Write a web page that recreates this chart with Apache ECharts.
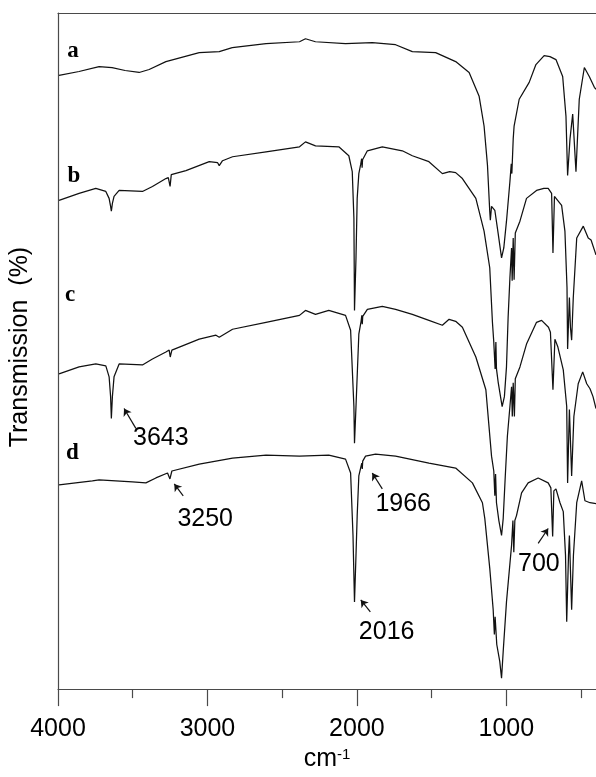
<!DOCTYPE html>
<html>
<head>
<meta charset="utf-8">
<script src="https://cdn.jsdelivr.net/npm/echarts@6/dist/echarts.min.js"></script>
<style>
html,body{margin:0;padding:0;background:#fff;}
#c{width:596px;height:777px;}
</style>
</head>
<body>
<div id="c"></div>
<script>
// ---- data (wavenumber cm-1, relative transmission, arbitrary offset units) ----
const wavenumberTicks = [4000, 3000, 2000, 1000];
const tickLabels = ['4000', '3000', '2000', '1000'];
const minorTicks = [3500, 2500, 1500, 500];
const curveNames = ['a', 'b', 'c', 'd'];
const curveLabelPos = [[3899, 644], [3893, 518], [3919, 397], [3904, 238]];

const spectrumA = [[3993,619],[3859,623],[3725,628],[3638,627],[3551,624],[3457,622],[3390,625],[3278,633],[3055,642],[2921,643],[2834,647],[2608,651],[2384,653],[2344,656],[2277,653],[2076,651],[1897,652],[1741,650],[1629,643],[1473,642],[1339,633],[1249,622],[1182,598],[1149,568],[1126,528],[1111,482],[1107,473],[1099,487],[1088,485],[1077,483],[1055,460],[1032,435],[1017,445],[999,472],[976,512],[967,530],[963,520],[954,555],[948,568],[914,595],[847,612],[802,630],[747,639],[708,638],[668,635],[623,618],[601,578],[590,518],[574,555],[556,580],[534,522],[512,595],[478,627],[445,618],[411,607],[400,605]];

const spectrumB = [[3993,493],[3859,500],[3747,505],[3680,502],[3658,495],[3648,487],[3643,482],[3636,490],[3625,497],[3591,503],[3435,502],[3368,507],[3278,515],[3262,516],[3250,507],[3242,519],[3144,523],[2988,532],[2932,531],[2921,528],[2899,533],[2832,537],[2608,542],[2384,547],[2344,552],[2277,548],[2121,547],[2054,538],[2031,522],[2020,475],[2016,382],[2006,435],[1998,495],[1987,520],[1975,529],[1968,535],[1965,526],[1962,534],[1930,543],[1830,547],[1696,543],[1629,538],[1518,532],[1428,520],[1379,522],[1339,521],[1294,515],[1204,495],[1149,462],[1111,425],[1093,370],[1084,350],[1075,323],[1070,350],[1066,323],[1055,310],[1028,285],[1013,295],[999,325],[988,375],[976,415],[965,445],[961,412],[954,455],[948,413],[940,460],[909,472],[865,495],[798,503],[749,505],[720,505],[697,500],[688,440],[678,497],[668,498],[630,488],[608,462],[594,405],[590,343],[578,395],[571,365],[563,352],[552,395],[529,455],[485,467],[452,455],[433,453],[400,438]];

const spectrumC = [[3993,318],[3859,325],[3747,328],[3680,326],[3658,315],[3648,295],[3643,273],[3636,295],[3625,315],[3591,328],[3435,327],[3368,333],[3278,340],[3256,342],[3249,335],[3238,342],[3055,353],[2943,357],[2921,355],[2832,363],[2608,370],[2384,377],[2344,382],[2277,378],[2188,382],[2076,377],[2042,362],[2020,285],[2016,248],[2006,285],[1987,358],[1972,371],[1967,377],[1964,368],[1961,376],[1930,383],[1830,386],[1741,383],[1629,378],[1518,372],[1428,367],[1383,373],[1339,371],[1294,365],[1204,335],[1137,302],[1099,235],[1084,220],[1077,195],[1072,217],[1066,188],[1050,170],[1032,155],[1021,172],[1007,215],[993,255],[976,285],[965,305],[960,275],[954,309],[946,275],[940,313],[909,325],[865,348],[798,370],[764,372],[718,365],[705,360],[688,302],[675,353],[655,345],[619,322],[596,285],[590,208],[578,282],[563,215],[548,275],[519,308],[489,320],[462,308],[440,303],[420,295],[400,283]];

const spectrumD = [[3993,206],[3770,210],[3725,211],[3502,209],[3412,208],[3345,213],[3267,218],[3251,212],[3238,220],[3055,227],[2832,233],[2608,236],[2384,235],[2188,236],[2076,232],[2042,218],[2026,155],[2016,88],[2006,135],[1998,175],[1987,215],[1972,225],[1967,228],[1964,222],[1961,230],[1942,235],[1875,237],[1741,235],[1518,228],[1339,223],[1227,208],[1160,188],[1144,172],[1111,122],[1088,80],[1080,55],[1075,73],[1064,45],[1044,28],[1032,11],[1021,38],[999,88],[965,145],[956,170],[950,138],[943,170],[932,175],[898,198],[854,208],[787,213],[720,208],[702,203],[690,154],[682,200],[668,202],[641,188],[619,179],[604,135],[596,68],[584,135],[578,155],[563,80],[551,135],[529,188],[496,210],[474,190],[440,188],[400,187]];

// peak annotations
const annotationTexts = ['3643', '3250', '2016', '1966', '700'];
const annotationSeries = [2, 3, 3, 3, 3];
const annotationTips = [[3558,283],[3222,207],[1974,90],[1897,218],[720,162]];
const annotationTails = [[3479,263],[3162,195],[1910,78],[1830,202],[787,147]];
const annotationTextPos = [[3312,253],[3015,171],[1801,57],[1690,187],[782,126]];

// ---- chart ----
const FONT = "'Liberation Sans', Arial, Helvetica, sans-serif";
const SERIF = "'Liberation Serif', 'Times New Roman', serif";
const axisColor = '#4a4a4a';
const spectra = [spectrumA, spectrumB, spectrumC, spectrumD];

const series = spectra.map(function (d, i) {
  const mp = [{
    name: curveNames[i], coord: curveLabelPos[i],
    label: { show: true, position: 'inside', formatter: '{b}', fontSize: 23, fontWeight: 'bold', fontFamily: SERIF, color: '#000' }
  }];
  const ml = [];
  annotationTexts.forEach(function (t, k) {
    if (annotationSeries[k] !== i) return;
    mp.push({
      name: t, coord: annotationTextPos[k],
      label: { show: true, position: 'inside', formatter: '{b}', fontSize: 25, fontFamily: FONT, color: '#000' }
    });
    ml.push([{ coord: annotationTails[k] }, { coord: annotationTips[k] }]);
  });
  return {
    type: 'line', name: curveNames[i], data: d,
    showSymbol: false, symbol: 'none', smooth: false, animation: false, silent: true,
    lineStyle: { color: '#111', width: 1.25 },
    emphasis: { disabled: true },
    markPoint: {
      symbol: 'circle', symbolSize: 1, silent: true, animation: false,
      itemStyle: { color: 'rgba(0,0,0,0)' },
      data: mp
    },
    markLine: {
      symbol: ['none', 'arrow'], symbolSize: 7, silent: true, animation: false,
      lineStyle: { color: '#111', width: 1.2, type: 'solid' },
      label: { show: false },
      data: ml
    }
  };
});

const chart = echarts.init(document.getElementById('c'), null, { renderer: 'canvas' });
chart.setOption({
  backgroundColor: '#fff',
  animation: false,
  grid: { left: 58, right: 0, top: 13, bottom: 82 },
  xAxis: [
    {
      type: 'value', min: 400, max: 4000, inverse: true, position: 'bottom',
      axisLine: { show: true, lineStyle: { color: axisColor, width: 1.2 } },
      axisTick: { show: true, length: 17, customValues: wavenumberTicks, lineStyle: { color: axisColor, width: 1.2 } },
      axisLabel: {
        show: true, customValues: wavenumberTicks, margin: 28,
        formatter: function (v) { return tickLabels[wavenumberTicks.indexOf(v)]; },
        fontSize: 25, color: '#000', fontFamily: FONT
      },
      splitLine: { show: false },
      name: 'cm{sup|-1}', nameLocation: 'middle', nameGap: 57,
      nameTextStyle: {
        fontSize: 25, color: '#000', fontFamily: FONT,
        rich: { sup: { fontSize: 15, verticalAlign: 'top', color: '#000', fontFamily: FONT } }
      }
    },
    {
      type: 'value', min: 400, max: 4000, inverse: true, position: 'bottom',
      axisLine: { show: false },
      axisTick: { show: true, length: 9, customValues: minorTicks, lineStyle: { color: axisColor, width: 1.2 } },
      axisLabel: { show: false },
      splitLine: { show: false }
    },
    {
      type: 'value', min: 400, max: 4000, inverse: true, position: 'top',
      axisLine: { show: true, lineStyle: { color: axisColor, width: 1.2 } },
      axisTick: { show: false }, axisLabel: { show: false }, splitLine: { show: false }
    }
  ],
  yAxis: {
    type: 'value', min: 0, max: 682,
    axisLine: { show: true, lineStyle: { color: axisColor, width: 1.2 } },
    axisTick: { show: false }, axisLabel: { show: false }, splitLine: { show: false },
    name: 'Transmission  (%)', nameLocation: 'middle', nameGap: 25,
    nameTextStyle: { fontSize: 25, color: '#000', fontFamily: FONT, padding: [0, 0, 0, 8] }
  },
  series: series
});
</script>
</body>
</html>
